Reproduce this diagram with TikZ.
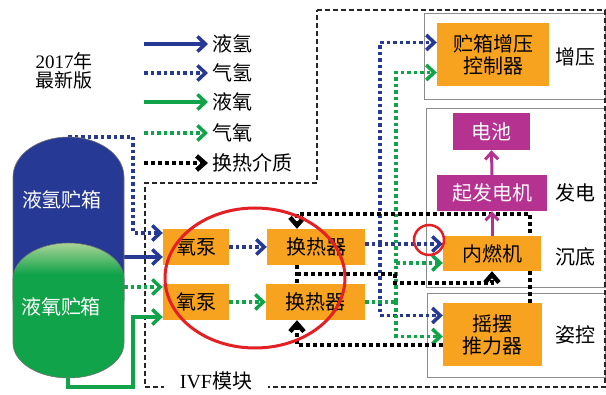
\documentclass[tikz,border=0pt]{standalone}
\usepackage{fontspec}
\setmainfont{Liberation Serif}
\newfontfamily\cjk{Noto Sans CJK SC}
\usetikzlibrary{arrows.meta,calc}
\pgfdeclarelayer{back}
\pgfdeclarelayer{conn}
\pgfsetlayers{back,conn,main}
\definecolor{hblue}{RGB}{38,57,148}
\definecolor{ogreen}{RGB}{16,163,74}
\definecolor{lgreen}{RGB}{170,212,150}
\definecolor{orngc}{RGB}{247,163,32}
\definecolor{magc}{RGB}{181,50,145}
\definecolor{redc}{RGB}{228,32,36}
\definecolor{greyc}{RGB}{140,140,140}
\begin{document}
\begin{tikzpicture}[x=1pt,y=-1pt,
  font=\fontsize{20}{22}\selectfont\cjk,
  obox/.style={fill=orngc, inner sep=0pt, align=center, text=black},
  mbox/.style={fill=magc, inner sep=0pt, text=white},
  lab/.style={inner sep=0pt},
  tipA/.style={-{Straight Barb[length=8pt,width=15pt]}},
  tipK/.style={-{Straight Barb[length=8pt,width=14pt]}},
  solH/.style={hblue, line width=3.5pt, tipA},
  dotH/.style={hblue, line width=3.5pt, dash pattern=on 3.5pt off 3pt, tipA},
  solO/.style={ogreen, line width=3.5pt, tipA},
  dotO/.style={ogreen, line width=3.5pt, dash pattern=on 3.5pt off 3pt, tipA},
  dotK/.style={black, line width=4.5pt, dash pattern=on 4pt off 3pt, tipK},
  magA/.style={magc, line width=3pt, -{Straight Barb[length=7pt,width=13pt]}},
  subbox/.style={draw=greyc, line width=0.8pt},
  ivf/.style={draw=black!85, line width=1.1pt, dash pattern=on 5pt off 3pt}
]
\useasboundingbox (0,0) rectangle (606,395);

% subsystem boxes and IVF module boundary
\begin{pgfonlayer}{back}
  \draw[subbox] (424,13) rectangle (605,99);
  \draw[subbox] (426,108) rectangle (605,287);
  \draw[subbox] (427,293) rectangle (605,377);
  \draw[ivf] (317,10) -- (605,10) -- (605,387) -- (145,387) -- (145,183) -- (317,183) -- cycle;
  \node[fill=white, inner xsep=16pt, inner ysep=1pt] (ivflab) at (216,381) {{\rmfamily IVF}模块};
\end{pgfonlayer}

% title
\node[lab, align=center, font=\fontsize{19}{19}\selectfont\cjk] (title) at (64,71) {{\rmfamily 2017}年\\最新版};

% legend
\node[lab, anchor=west] (l1) at (212,44) {液氢};
\node[lab, anchor=west] (l2) at (212,73) {气氢};
\node[lab, anchor=west] (l3) at (212,102) {液氧};
\node[lab, anchor=west] (l4) at (212,133) {气氧};
\node[lab, anchor=west] (l5) at (212,163) {换热介质};
\draw[solH] ([xshift=-68pt]l1.west) -- ([xshift=-4pt]l1.west);
\draw[dotH] ([xshift=-68pt]l2.west) -- ([xshift=-4pt]l2.west);
\draw[solO] ([xshift=-68pt]l3.west) -- ([xshift=-4pt]l3.west);
\draw[dotO] ([xshift=-68pt]l4.west) -- ([xshift=-4pt]l4.west);
\draw[dotK] ([xshift=-68pt]l5.west) -- ([xshift=-4pt]l5.west);

% tanks
\def\htank{(13,177) .. controls (13,154.9) and (37.85,137) .. (68.5,137) .. controls (99.15,137) and (124,154.9) .. (124,177) -- (124,300) .. controls (124,322.1) and (99.15,340) .. (68.5,340) .. controls (37.85,340) and (13,322.1) .. (13,300) -- cycle}
\def\otank{(13,279) .. controls (13,259.1) and (37.85,243) .. (68.5,243) .. controls (99.15,243) and (124,259.1) .. (124,279) -- (124,343) .. controls (124,362.3) and (99.15,378) .. (68.5,378) .. controls (37.85,378) and (13,362.3) .. (13,343) -- cycle}
\fill[hblue] \htank;
\draw[black!55, line width=0.6pt] \htank;
\fill[ogreen] \otank;
\begin{scope}
  \clip \otank;
  \shade[top color=lgreen, bottom color=ogreen] (13,243) rectangle (124,274);
\end{scope}
\draw[black!55, line width=0.6pt] \otank;
\node[lab, text=white] (tankH) at (62,200) {液氢贮箱};
\node[lab, text=white] (tankO) at (61,307) {液氧贮箱};
\coordinate (htop) at (68,137);
\coordinate (obot) at (68,378);
\coordinate (tr) at (124,0);
\coordinate (hx) at (133,0);
\coordinate (gb) at (133,387);

% component boxes
\node[obox, minimum width=66pt, minimum height=36pt] (p1) at (196,247) {氧泵};
\node[obox, minimum width=66pt, minimum height=36pt] (p2) at (196,302) {氧泵};
\node[obox, minimum width=98pt, minimum height=36pt] (ht1) at (316,247) {换热器};
\node[obox, minimum width=99pt, minimum height=36pt] (ht2) at (315.5,302) {换热器};
\node[obox, minimum width=98pt, minimum height=35pt] (ice) at (492,253.5) {内燃机};
\node[mbox, minimum width=110pt, minimum height=36pt] (gen) at (492,193) {起发电机};
\node[mbox, minimum width=77pt, minimum height=37pt] (bat) at (491.5,131.5) {电池};
\node[obox, minimum width=112pt, minimum height=63pt] (ctrl) at (493,54.5) {贮箱增压\\控制器};
\node[obox, minimum width=99pt, minimum height=63pt] (th) at (492.5,334.5) {摇摆\\推力器};

% side labels
\node[lab] (s1) at (575,57) {增压};
\node[lab] (s2) at (575,193) {发电};
\node[lab] (s3) at (575,257) {沉底};
\node[lab] (s4) at (575,335) {姿控};

% connectors
\begin{pgfonlayer}{conn}
  % from tanks to pumps
  \coordinate (p1a) at ([yshift=14pt]p1.west);
  \coordinate (p1b) at ([yshift=-10pt]p1.west);
  \coordinate (p2a) at ([yshift=15pt]p2.west);
  \coordinate (p2b) at ([yshift=-15pt]p2.west);
  \draw[dotH] (htop) -| (hx |- p1a) -- (p1a);
  \draw[solH] (tr |- p1b) -- (p1b);
  \draw[dotO] (tr |- p2a) -- (p2a);
  \draw[solO] (obot) |- (gb) |- (p2b);
  % pumps to heat exchangers
  \draw[dotH] (p1.east) -- (ht1.west);
  \draw[dotO] (p2.east) -- (ht2.west);
  % gaseous hydrogen
  \coordinate (hb) at ([yshift=3pt]ht1.east);
  \coordinate (bx) at (380,0);
  \draw[dotH] (hb) -- (hb -| ice.west);
  \draw[dotH] (bx |- hb) |- ([yshift=12pt]ctrl.west);
  \draw[dotH] (bx |- hb) |- ([yshift=19pt]th.west);
  % gaseous oxygen
  \coordinate (gx) at (396,0);
  \draw[ogreen, line width=3.5pt, dash pattern=on 3.5pt off 3pt] (ht2.east) -- (gx |- ht2.east);
  \draw[dotO] (gx |- ht2.east) |- ([yshift=-18pt]ctrl.west);
  \draw[dotO] (gx |- ht2.east) |- ([yshift=-9.5pt]ice.west);
  \draw[dotO] (gx |- ht2.east) |- ([yshift=-2pt]th.west);
  % heat exchange medium
  \coordinate (k1) at (530,214);
  \coordinate (k2) at (297,214);
  \coordinate (k3) at (297,345);
  \coordinate (k4) at (297,274);
  \coordinate (k5) at (395,274);
  \coordinate (k6) at (395,283);
  \draw[dotK] (th.north -| k1) -- (k1) -- (k2) -- (k2 |- ht1.north);
  \draw[dotK] (th.west |- k3) -- (k3) -- (k3 |- ht2.south);
  \draw[black, line width=4.5pt, dash pattern=on 4pt off 3pt] (k2 |- ht1.south) -- (k2 |- ht2.north);
  \draw[dotK] (k4) -- (k5) -- (k6) -- (k6 -| ice.south) -- (ice.south);
  % electric
  \draw[magA] (ice.north) -- (gen.south);
  \draw[magA] (gen.north) -- (bat.south);
\end{pgfonlayer}

% highlights
\draw[redc, line width=3pt] (255,278) ellipse [x radius=90pt, y radius=70pt];
\draw[redc, line width=2.5pt] (429,240) circle [radius=15pt];
\end{tikzpicture}
\end{document}
